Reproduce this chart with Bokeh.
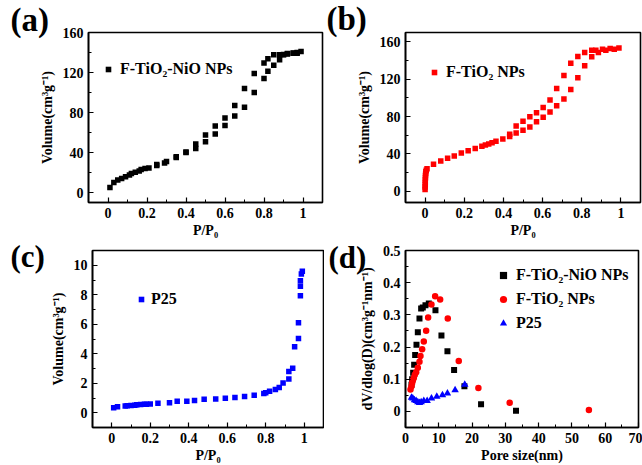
from bokeh.plotting import figure
from bokeh.layouts import column, row
from bokeh.models import Range1d, Title, Legend, LegendItem, FixedTicker
from bokeh.embed import file_html
from bokeh.resources import INLINE

# ---------------- data ----------------
# (a) F-TiO2-NiO NPs isotherm
a_ads_x = [0.01, 0.03, 0.05, 0.07, 0.09, 0.11, 0.12, 0.14, 0.16, 0.17, 0.19, 0.21, 0.25, 0.29,
           0.35, 0.40, 0.45, 0.50, 0.55, 0.60, 0.65, 0.70, 0.75, 0.80, 0.82, 0.85, 0.88, 0.90,
           0.92, 0.95, 0.97, 0.99]
a_ads_y = [5, 10, 12.5, 14, 15.7, 17.4, 19, 20.3, 21.6, 23, 24, 24.6, 27, 29.5, 35, 40, 44,
           50.8, 58.4, 67, 76.4, 85.2, 100, 114, 121.3, 127.2, 132.8, 137.7, 138.4, 139.3, 139.3, 141]
a_des_x = [0.97, 0.95, 0.92, 0.90, 0.88, 0.85, 0.82, 0.80, 0.75, 0.70, 0.65, 0.60, 0.55, 0.50,
           0.45, 0.40, 0.35, 0.30, 0.25]
a_des_y = [140, 139.5, 139, 138, 137.7, 137.7, 133.8, 129.5, 119, 104, 87, 74.4, 66.6, 57.4,
           48.5, 40.5, 35.8, 31, 28]

# (b) F-TiO2 NPs isotherm
b_ads_x = [0.0, 0.0, 0.001, 0.001, 0.001, 0.002, 0.002, 0.003, 0.004, 0.006, 0.01, 0.043, 0.08,
           0.115, 0.149, 0.185, 0.22, 0.256, 0.29, 0.308, 0.325, 0.342, 0.362, 0.397, 0.432,
           0.465, 0.50, 0.535, 0.569, 0.603, 0.638, 0.672, 0.709, 0.744, 0.78, 0.815, 0.851,
           0.885, 0.923, 0.966, 0.99]
b_ads_y = [2, 4.5, 7, 9.5, 12, 14.5, 17, 19, 21, 22.5, 24, 29, 32.5, 35.3, 37.7, 40.9, 43.3,
           45.8, 48.2, 49.6, 50.7, 52, 53.5, 55.9, 58.7, 62.5, 65.3, 68.8, 74.4, 79.3, 84.9,
           91.5, 98.9, 109, 121.6, 134.5, 144, 148.5, 151, 152, 153.4]
b_des_x = [0.432, 0.465, 0.50, 0.535, 0.569, 0.603, 0.638, 0.672, 0.709, 0.744, 0.78, 0.815,
           0.851, 0.872, 0.906, 0.945]
b_des_y = [61.1, 69.9, 75.1, 79.7, 84.2, 89.8, 97.8, 110, 124, 137, 144.3, 148.5, 150.9, 151,
           152, 153]

# (c) P25 isotherm
c_x = [0.01, 0.03, 0.07, 0.08, 0.10, 0.12, 0.13, 0.15, 0.17, 0.18, 0.20, 0.24, 0.30, 0.34,
       0.39, 0.43, 0.48, 0.54, 0.59, 0.64, 0.69, 0.74, 0.79, 0.80, 0.82, 0.85, 0.87, 0.89,
       0.92, 0.92, 0.94, 0.95, 0.97, 0.97, 0.98, 0.98, 0.98, 0.985, 0.99]
c_y = [0.34, 0.40, 0.45, 0.47, 0.49, 0.51, 0.54, 0.56, 0.57, 0.58, 0.60, 0.65, 0.67, 0.78,
       0.78, 0.83, 0.92, 0.94, 0.98, 1.03, 1.10, 1.19, 1.30, 1.36, 1.45, 1.57, 1.72, 2.01,
       2.28, 2.80, 3.02, 4.47, 5.03, 6.1, 7.94, 8.57, 8.95, 9.4, 9.6]

# (d) pore size distributions
d_nio_x = [1.8, 2.0, 2.3, 2.6, 2.9, 3.3, 3.7, 4.2, 4.7, 5.2, 6.0, 7.0, 9.0, 10.8, 12.6, 14.6,
           17.7, 22.7, 33.2]
d_nio_y = [0.083, 0.10, 0.12, 0.145, 0.175, 0.207, 0.246, 0.289, 0.32, 0.323, 0.33, 0.335,
           0.314, 0.236, 0.187, 0.129, 0.078, 0.022, 0.002]
d_tio_x = [1.5, 1.8, 2.0, 2.2, 2.5, 2.8, 3.2, 3.7, 4.2, 4.5, 5.0, 5.5, 6.2, 6.8, 7.8, 8.9,
           10.4, 12.7, 16.0, 21.9, 31.3, 55.1]
d_tio_y = [0.068, 0.078, 0.088, 0.096, 0.104, 0.114, 0.122, 0.136, 0.154, 0.172, 0.193,
           0.217, 0.251, 0.292, 0.332, 0.358, 0.348, 0.289, 0.157, 0.073, 0.027, 0.004]
d_p25_x = [1.8, 2.2, 2.7, 3.2, 3.7, 4.2, 4.7, 5.5, 6.5, 7.8, 9.4, 11.1, 12.6, 14.9, 17.8]
d_p25_y = [0.043, 0.041, 0.035, 0.033, 0.029, 0.027, 0.029, 0.033, 0.033, 0.041, 0.046,
           0.051, 0.056, 0.066, 0.083]

iso_x_ticks = [0.0, 0.2, 0.4, 0.6, 0.8, 1.0]
iso_x_minor = [-0.1, 0.1, 0.3, 0.5, 0.7, 0.9, 1.1]
ab_y_ticks = [0, 40, 80, 120, 160]
ab_y_minor = [20, 60, 100, 140]
c_y_ticks = [0, 2, 4, 6, 8, 10]
c_y_minor = [-1, 1, 3, 5, 7, 9, 11]
d_x_ticks = [0, 10, 20, 30, 40, 50, 60, 70]
d_x_minor = [5, 15, 25, 35, 45, 55, 65]
d_y_ticks = [0.0, 0.1, 0.2, 0.3, 0.4, 0.5]
d_y_minor = [0.05, 0.15, 0.25, 0.35, 0.45]

FONT = "Liberation Serif"
XLAB = "P/P\u2080"
VLAB = "Volume(cm\u00b3g\u207b\u00b9)"


def make_fig(w, h, bl, br, bt, bb, xr, yr, xt, xm, yt, ym, xlabel, ylabel):
    p = figure(width=w, height=h, min_border_left=bl, min_border_right=br,
               min_border_top=bt, min_border_bottom=bb,
               x_range=Range1d(*xr), y_range=Range1d(*yr),
               output_backend="svg", toolbar_location=None)
    p.xgrid.visible = False
    p.ygrid.visible = False
    p.outline_line_color = "black"
    p.outline_line_width = 1.6
    p.outline_line_alpha = 1
    p.background_fill_color = "white"
    p.border_fill_color = "white"
    p.xaxis.ticker = FixedTicker(ticks=xt, minor_ticks=xm)
    p.yaxis.ticker = FixedTicker(ticks=yt, minor_ticks=ym)
    p.xaxis.axis_label = xlabel
    p.yaxis.axis_label = ylabel
    for ax in (p.xaxis[0], p.yaxis[0]):
        ax.axis_line_width = 1.6
        ax.axis_line_color = "black"
        ax.major_tick_in = 5
        ax.major_tick_out = 0
        ax.minor_tick_in = 3
        ax.minor_tick_out = 0
        ax.major_tick_line_width = 1.2
        ax.minor_tick_line_width = 1
        ax.major_label_text_font = FONT
        ax.major_label_text_font_style = "bold"
        ax.major_label_text_font_size = "14px"
        ax.major_label_text_color = "black"
        ax.axis_label_text_font = FONT
        ax.axis_label_text_font_style = "bold"
        ax.axis_label_text_font_size = "14px"
        ax.axis_label_text_color = "black"
    p.xaxis.major_label_standoff = 5
    p.xaxis.axis_label_standoff = 2
    p.yaxis.major_label_standoff = 5
    p.yaxis.axis_label_standoff = 5
    return p


def panel_label(p, text, offset, standoff, size="33px"):
    t = Title(text=text, align="left", offset=offset, text_font=FONT,
              text_font_style="bold", text_font_size=size, text_color="black")
    try:
        t.standoff = standoff
    except Exception:
        t.standoff = 0
    p.add_layout(t, "above")


def add_legend(p, items, loc, gw, gh, standoff, spacing=0):
    lg = Legend(items=items, location=loc, padding=0, margin=0, spacing=spacing,
                glyph_width=gw, glyph_height=gh, label_height=gh, label_standoff=standoff,
                label_text_font=FONT, label_text_font_style="bold",
                label_text_font_size="16px", label_text_color="black",
                border_line_alpha=0, background_fill_alpha=0)
    p.add_layout(lg)


MK = dict(line_alpha=0)

# (a)
pa = make_fig(324, 240, 88, 2, 29, 38, (-0.1, 1.1), (-10, 160),
              iso_x_ticks, iso_x_minor, ab_y_ticks, ab_y_minor, XLAB, VLAB)
ra = pa.scatter(a_ads_x, a_ads_y, marker="square", size=5.5, color="black", **MK)
pa.scatter(a_des_x, a_des_y, marker="square", size=5.5, color="black", **MK)
add_legend(pa, [LegendItem(label="F-TiO\u2082-NiO NPs", renderers=[ra])], (13, 123), 14, 20, 5)
panel_label(pa, "(a)", -78, -11)

# (b)
pb = make_fig(318, 240, 81, 2, 32, 35, (-0.1, 1.1), (-12, 170),
              iso_x_ticks, iso_x_minor, ab_y_ticks, ab_y_minor, XLAB, VLAB)
rb = pb.scatter(b_ads_x, b_ads_y, marker="square", size=5.5, color="#ff0000", **MK)
pb.scatter(b_des_x, b_des_y, marker="square", size=5.5, color="#ff0000", **MK)
add_legend(pb, [LegendItem(label="F-TiO\u2082 NPs", renderers=[rb])], (22, 120), 14, 20, 5)
panel_label(pb, "(b)", -79, -8)

# (c)
pc = make_fig(324, 225, 92, 1, 10, 36, (-0.1, 1.1), (-1, 11),
              iso_x_ticks, iso_x_minor, c_y_ticks, c_y_minor, XLAB, VLAB)
rc = pc.scatter(c_x, c_y, marker="square", size=5.5, color="#0000ff", **MK)
add_legend(pc, [LegendItem(label="P25", renderers=[rc])], (42, 118), 14, 20, 3)
panel_label(pc, "(c)", -82, -46, "31px")

# (d)
pd_ = make_fig(318, 225, 81, 4, 8, 35, (0, 70), (-0.05, 0.5),
               d_x_ticks, d_x_minor, d_y_ticks, d_y_minor, "Pore size(nm)",
               "dV/dlog(D)(cm\u00b3g\u207b\u00b9nm\u207b\u00b9)")
r1 = pd_.scatter(d_nio_x, d_nio_y, marker="square", size=6, color="black", **MK)
r2 = pd_.scatter(d_tio_x, d_tio_y, marker="circle", size=6.5, color="#ff0000", **MK)
r3 = pd_.scatter(d_p25_x, d_p25_y, marker="triangle", size=7.5, color="#0000ff", **MK)
add_legend(pd_, [LegendItem(label="F-TiO\u2082-NiO NPs", renderers=[r1]),
                 LegendItem(label="F-TiO\u2082 NPs", renderers=[r2]),
                 LegendItem(label="P25", renderers=[r3])], (89, 94), 18, 20, 4, spacing=4)
panel_label(pd_, "(d)", -77, -48, "31px")

layout = column(row(pa, pb), row(pc, pd_))

open("out.html", "w").write(file_html(layout, INLINE))
